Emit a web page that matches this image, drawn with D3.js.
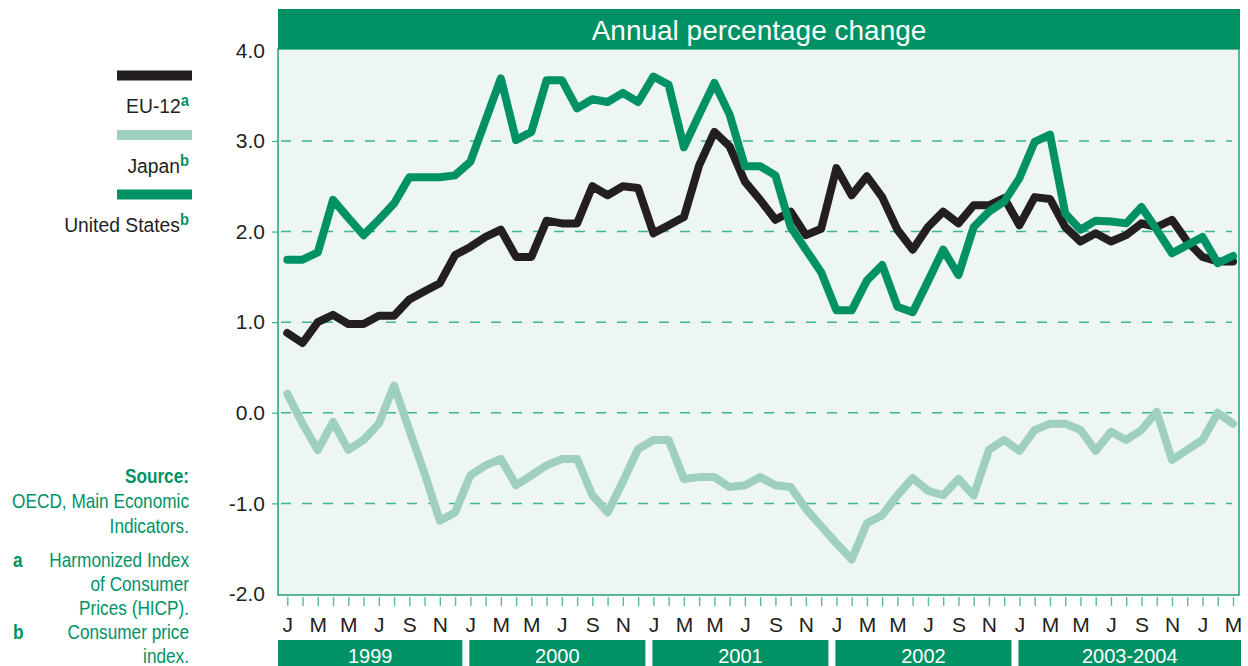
<!DOCTYPE html>
<html>
<head>
<meta charset="utf-8">
<script src="https://cdn.jsdelivr.net/npm/d3@7"></script>
<style>
  body { margin: 0; background: #fff; }
  .sans { font-family: "Liberation Sans", Arial, sans-serif; }
</style>
</head>
<body>
<svg id="chart" width="1248" height="666"></svg>
<script>
// monthly values, Jan 1999 .. Mar 2004
var euValues = [
  0.88, 0.77, 1.00, 1.08, 0.98, 0.98, 1.07, 1.07, 1.25, 1.34, 1.43, 1.74,
  1.83, 1.94, 2.02, 1.72, 1.72, 2.12, 2.09, 2.09, 2.50, 2.40, 2.50, 2.48,
  1.98, 2.07, 2.16, 2.73, 3.10, 2.94, 2.55, 2.35, 2.13, 2.22, 1.96, 2.03,
  2.70, 2.40, 2.61, 2.38, 2.02, 1.80, 2.05, 2.22, 2.09, 2.29, 2.29, 2.37,
  2.07, 2.38, 2.36, 2.05, 1.89, 1.98, 1.89, 1.96, 2.09, 2.05, 2.13, 1.89,
  1.72, 1.67, 1.67
];
var japanValues = [
  0.21, -0.12, -0.41, -0.10, -0.41, -0.30, -0.12, 0.30, -0.19, -0.67, -1.19, -1.10,
  -0.69, -0.58, -0.51, -0.80, -0.69, -0.58, -0.51, -0.51, -0.91, -1.10, -0.76, -0.40,
  -0.30, -0.30, -0.73, -0.71, -0.71, -0.82, -0.80, -0.71, -0.80, -0.82, -1.06, -1.25,
  -1.44, -1.62, -1.22, -1.13, -0.91, -0.72, -0.86, -0.91, -0.73, -0.91, -0.41, -0.30,
  -0.42, -0.19, -0.12, -0.12, -0.19, -0.42, -0.21, -0.30, -0.19, 0.01, -0.52, -0.41,
  -0.30, 0.00, -0.12
];
var usValues = [
  1.69, 1.69, 1.77, 2.35, 2.15, 1.96, 2.13, 2.31, 2.60, 2.60, 2.60, 2.62,
  2.77, 3.23, 3.69, 3.01, 3.10, 3.67, 3.67, 3.36, 3.46, 3.43, 3.53, 3.43,
  3.71, 3.62, 2.93, 3.29, 3.64, 3.29, 2.72, 2.72, 2.62, 2.05, 1.80, 1.55,
  1.13, 1.13, 1.46, 1.63, 1.17, 1.11, 1.45, 1.80, 1.52, 2.05, 2.22, 2.33,
  2.59, 2.99, 3.07, 2.20, 2.02, 2.12, 2.11, 2.09, 2.27, 2.02, 1.76, 1.85,
  1.94, 1.65, 1.73
];
var monthLabels = ["J","M","M","J","S","N","J","M","M","J","S","N","J","M","M","J","S","N",
  "J","M","M","J","S","N","J","M","M","J","S","N","J","M"];
var yTicks = [-2, -1, 0, 1, 2, 3, 4];
var gridValues = [-1, 0, 1, 2, 3];
var yearNames = ["1999", "2000", "2001", "2002", "2003-2004"];
var yearStarts = [0, 12, 24, 36, 48];
var yearEnds = [12, 24, 36, 48, 63];

var series = [
  { name: "Japan", sup: "b", values: japanValues, color: "#9fd0bd" },
  { name: "EU-12", sup: "a", values: euValues, color: "#231f20" },
  { name: "United States", sup: "b", values: usValues, color: "#009265" }
];

var green = "#009265";
var svg = d3.select("#chart");

var x = d3.scaleLinear().domain([0, 62]).range([287.3, 1233]);
var y = d3.scaleLinear().domain([-2, 4]).range([594, 50.3]);

// header
svg.append("rect").attr("x", 278).attr("y", 9).attr("width", 962).attr("height", 40).attr("fill", green);
svg.append("text").attr("class", "sans").attr("x", 759).attr("y", 39.5)
  .attr("text-anchor", "middle").attr("fill", "#fff").style("font-size", "28px")
  .text("Annual percentage change");

// plot frame
svg.append("rect").attr("x", 278).attr("y", 49).attr("width", 961).attr("height", 546)
  .attr("fill", "#edf6f2").attr("stroke", green).attr("stroke-width", 1.3);

// grid
svg.append("g").selectAll("line").data(gridValues).enter().append("line")
  .attr("x1", 281).attr("x2", 1232)
  .attr("y1", function (d) { return y(d); })
  .attr("y2", function (d) { return y(d); })
  .attr("stroke", "#3fb888").attr("stroke-width", 1.5)
  .attr("stroke-dasharray", "10,11");

// y axis
var yAxis = svg.append("g").attr("transform", "translate(278,0)")
  .call(d3.axisLeft(y).tickValues(yTicks).tickFormat(function (d) { return d.toFixed(1); })
    .tickSize(6).tickPadding(7));
yAxis.select(".domain").remove();
yAxis.selectAll(".tick line").attr("stroke", "#3fb888").attr("stroke-width", 1.3)
  .attr("display", function (d) { return d === 4 || d === -2 ? "none" : null; });
yAxis.selectAll(".tick text").attr("class", "sans").attr("fill", "#231f20")
  .style("font-size", "21px");

// x axis
var xAxis = svg.append("g").attr("transform", "translate(0,597)")
  .call(d3.axisBottom(x).tickValues(d3.range(63)).tickSize(9).tickPadding(11)
    .tickFormat(function (d) { return d % 2 === 0 ? monthLabels[d / 2] : ""; }));
xAxis.select(".domain").remove();
xAxis.selectAll(".tick line").attr("stroke", "#55bd92").attr("stroke-width", 1.4);
xAxis.selectAll(".tick text").attr("class", "sans").attr("fill", "#231f20")
  .style("font-size", "21px");

// year bands
function bandX0(i) { return i === 0 ? 278 : x(yearStarts[i]) - 1; }
function bandX1(i) { return i === yearNames.length - 1 ? 1241 : x(yearEnds[i]) - 8; }
var bands = svg.append("g").selectAll("g").data(yearNames).enter().append("g");
bands.append("rect")
  .attr("x", function (d, i) { return bandX0(i); })
  .attr("width", function (d, i) { return bandX1(i) - bandX0(i); })
  .attr("y", 640).attr("height", 30).attr("fill", green);
bands.append("text").attr("class", "sans")
  .attr("x", function (d, i) { return (bandX0(i) + bandX1(i)) / 2; })
  .attr("y", 663).attr("text-anchor", "middle").attr("fill", "#fff")
  .style("font-size", "20px").text(function (d) { return d; });

// lines
var line = d3.line()
  .x(function (d, i) { return x(i); })
  .y(function (d) { return y(d); });
svg.append("g").selectAll("path").data(series).enter().append("path")
  .attr("d", function (d) { return line(d.values); })
  .attr("fill", "none")
  .attr("stroke", function (d) { return d.color; })
  .attr("stroke-width", 8)
  .attr("stroke-linejoin", "round")
  .attr("stroke-linecap", "round");

// legend
var legendOrder = [series[1], series[0], series[2]];
var leg = svg.append("g").selectAll("g").data(legendOrder).enter().append("g")
  .attr("transform", function (d, i) { return "translate(0," + (i * 59.5) + ")"; });
leg.append("rect").attr("x", 117).attr("y", 70.5).attr("width", 75).attr("height", 10)
  .attr("fill", function (d) { return d.color; });
var legText = leg.append("text").attr("class", "sans")
  .attr("transform", "translate(189,113) scale(0.92,1)")
  .attr("text-anchor", "end").attr("fill", "#231f20").style("font-size", "21px");
legText.append("tspan").text(function (d) { return d.name; });
legText.append("tspan").attr("dy", -7).attr("fill", green).attr("font-weight", "bold")
  .style("font-size", "16px").text(function (d) { return d.sup; });

// source and notes
var noteLines = [
  { t: "Source:", y: 483, bold: true },
  { t: "OECD, Main Economic", y: 508 },
  { t: "Indicators.", y: 533 },
  { t: "Harmonized Index", y: 567 },
  { t: "of Consumer", y: 591 },
  { t: "Prices (HICP).", y: 615 },
  { t: "Consumer price", y: 639 },
  { t: "index.", y: 663 }
];
var notes = svg.append("g").attr("fill", green);
notes.selectAll("text.l").data(noteLines).enter().append("text").attr("class", "sans l")
  .attr("transform", function (d) { return "translate(189," + d.y + ") scale(0.82,1)"; })
  .attr("text-anchor", "end").style("font-size", "21px")
  .attr("font-weight", function (d) { return d.bold ? "bold" : null; })
  .text(function (d) { return d.t; });
notes.selectAll("text.k").data([{ t: "a", y: 567 }, { t: "b", y: 639 }]).enter().append("text")
  .attr("class", "sans k")
  .attr("transform", function (d) { return "translate(13," + d.y + ") scale(0.82,1)"; })
  .style("font-size", "21px").attr("font-weight", "bold").text(function (d) { return d.t; });
</script>
</body>
</html>
